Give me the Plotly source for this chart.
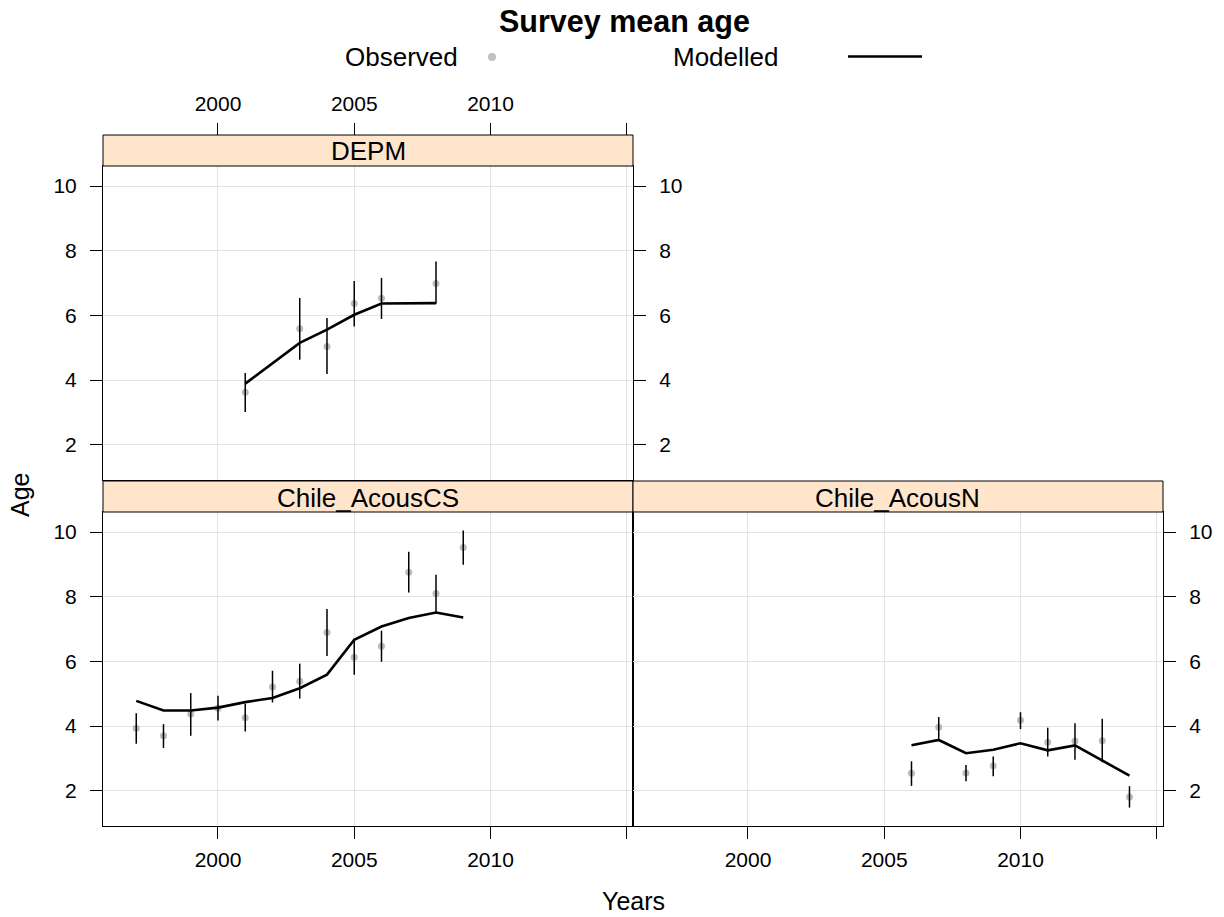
import plotly.graph_objects as go

# ---------------- data ----------------
panel_names = ["DEPM", "Chile_AcousCS", "Chile_AcousN"]

years_depm = [2001, 2003, 2004, 2005, 2006, 2008]
obs_depm = [3.62, 5.59, 5.04, 6.37, 6.53, 6.99]
lo_depm = [3.01, 4.63, 4.19, 5.66, 5.89, 6.36]
hi_depm = [4.22, 6.54, 5.92, 7.06, 7.16, 7.67]
mod_depm = [3.89, 5.15, 5.56, 6.02, 6.37, 6.38]

years_cs = [1997, 1998, 1999, 2000, 2001, 2002, 2003, 2004, 2005, 2006, 2007, 2008, 2009]
obs_cs = [3.93, 3.70, 4.37, 4.55, 4.26, 5.21, 5.39, 6.89, 6.13, 6.47, 8.76, 8.10, 9.52]
lo_cs = [3.45, 3.32, 3.70, 4.17, 3.83, 4.73, 4.85, 6.17, 5.59, 5.99, 8.13, 7.51, 8.99]
hi_cs = [4.40, 4.06, 5.02, 4.94, 4.69, 5.71, 5.93, 7.62, 6.69, 6.95, 9.39, 8.68, 10.05]
mod_cs = [4.78, 4.48, 4.48, 4.57, 4.74, 4.87, 5.17, 5.59, 6.67, 7.08, 7.34, 7.51, 7.36]

years_n = [2006, 2007, 2008, 2009, 2010, 2011, 2012, 2013, 2014]
obs_n = [2.54, 3.96, 2.55, 2.77, 4.18, 3.50, 3.54, 3.55, 1.81]
lo_n = [2.15, 3.61, 2.29, 2.45, 3.91, 3.06, 2.96, 2.88, 1.48]
hi_n = [2.91, 4.28, 2.80, 3.06, 4.43, 3.95, 4.09, 4.23, 2.14]
mod_n = [3.41, 3.57, 3.16, 3.27, 3.47, 3.25, 3.40, 2.94, 2.47]

x_tickvals = [2000, 2005, 2010, 2015]
x_ticktext = ["2000", "2005", "2010", ""]
y_tickvals = [2, 4, 6, 8, 10]
x_range = [1995.78, 2015.23]
y_range = [0.91, 10.62]

# ---------------- layout geometry (pixels) ----------------
W, H = 1224, 917
FONT = "Liberation Sans"
GRID = "#e3e3e3"
STRIP = "#FFE5CC"


def px(x):
    return x / W


def py(y):
    return 1 - y / H


XL = [px(103), px(633)]
XR = [px(633), px(1163)]
Y_TOP = [py(480), py(166)]
Y_BOT = [py(826), py(512)]
STRIPS = [  # (x0, x1, y0, y1) pixels
    (103, 633, 135, 166),
    (103, 633, 481, 512),
    (633, 1163, 481, 512),
]

fig = go.Figure()

panels = [
    ("x", "y", years_depm, obs_depm, lo_depm, hi_depm, mod_depm),
    ("x2", "y2", years_cs, obs_cs, lo_cs, hi_cs, mod_cs),
    ("x3", "y3", years_n, obs_n, lo_n, hi_n, mod_n),
]

for xa, ya, yrs, obs, lo, hi, mod in panels:
    fig.add_trace(go.Scatter(
        x=yrs, y=obs, mode="markers", xaxis=xa, yaxis=ya,
        marker=dict(size=7, color="rgba(150,150,150,0.65)", line=dict(width=0)),
        showlegend=False, hoverinfo="x+y"))
    ex, ey = [], []
    for yr, l, h in zip(yrs, lo, hi):
        ex += [yr, yr, None]
        ey += [l, h, None]
    fig.add_trace(go.Scatter(
        x=ex, y=ey, mode="lines", xaxis=xa, yaxis=ya,
        line=dict(color="black", width=1.5), showlegend=False, hoverinfo="skip"))
    fig.add_trace(go.Scatter(
        x=yrs, y=mod, mode="lines", xaxis=xa, yaxis=ya,
        line=dict(color="black", width=2.6), showlegend=False))

# invisible carrier trace so the extra top / right axes of the DEPM panel are drawn
fig.add_trace(go.Scatter(
    x=years_depm, y=obs_depm, mode="markers", xaxis="x4", yaxis="y4",
    marker=dict(size=1, opacity=0), showlegend=False, hoverinfo="skip"))

tickfont = dict(family=FONT, size=21, color="black")
common_x = dict(range=x_range, tickvals=x_tickvals, ticktext=x_ticktext,
                gridcolor=GRID, gridwidth=1, zeroline=False, tickfont=tickfont,
                linecolor="black", linewidth=1, tickcolor="black", ticklen=12, tickwidth=1)
common_y = dict(range=y_range, tickvals=y_tickvals, gridcolor=GRID, gridwidth=1,
                zeroline=False, tickfont=tickfont, linecolor="black", linewidth=1,
                tickcolor="black", ticklen=12, tickwidth=1)

fig.update_layout(
    width=W, height=H,
    margin=dict(l=0, r=0, t=0, b=0),
    paper_bgcolor="white", plot_bgcolor="white",
    font=dict(family=FONT, color="black"),
    showlegend=False,
    # top-left panel (DEPM)
    xaxis=dict(domain=XL, anchor="y", showticklabels=False, ticks="",
               showline=True, mirror=True, **{k: v for k, v in common_x.items() if k not in ("ticklen",)}),
    yaxis=dict(domain=Y_TOP, anchor="x", ticks="outside", showline=True, mirror=True,
               ticklabelstandoff=9, **common_y),
    xaxis4=dict(overlaying="x", anchor="free", position=py(135), side="top",
                ticks="outside", showgrid=False, showline=False, ticklabelstandoff=4,
                **{k: v for k, v in common_x.items() if k not in ("gridcolor", "gridwidth")}),
    yaxis4=dict(overlaying="y", anchor="x", side="right", ticks="outside",
                showgrid=False, showline=False, ticklabelstandoff=9, **common_y),
    # bottom-left panel (Chile_AcousCS)
    xaxis2=dict(domain=XL, anchor="y2", ticks="outside", showline=True, mirror=True,
                ticklabelstandoff=3, **common_x),
    yaxis2=dict(domain=Y_BOT, anchor="x2", ticks="outside", showline=True, mirror=True,
                ticklabelstandoff=9, **common_y),
    # bottom-right panel (Chile_AcousN)
    xaxis3=dict(domain=XR, anchor="y3", ticks="outside", showline=True, mirror=True,
                ticklabelstandoff=3, **common_x),
    yaxis3=dict(domain=Y_BOT, anchor="x3", side="right", ticks="outside", showline=True,
                mirror=True, ticklabelstandoff=9, **common_y),
)

shapes = []
annotations = []
for (x0, x1, y0, y1), name in zip(STRIPS, panel_names):
    shapes.append(dict(type="rect", xref="paper", yref="paper",
                       x0=px(x0), x1=px(x1), y0=py(y1), y1=py(y0),
                       fillcolor=STRIP, line=dict(color="black", width=1), layer="above"))
    annotations.append(dict(text=name, xref="paper", yref="paper",
                            x=px((x0 + x1) / 2), y=py((y0 + y1) / 2 + 1),
                            xanchor="center", yanchor="middle", showarrow=False,
                            font=dict(family=FONT, size=26, color="black")))

# title
annotations.append(dict(text="<b>Survey mean age</b>", xref="paper", yref="paper",
                        x=px(624), y=py(21), xanchor="center", yanchor="middle",
                        showarrow=False, font=dict(family=FONT, size=30.5, color="black")))
# legend (key)
annotations.append(dict(text="Observed", xref="paper", yref="paper",
                        x=px(401), y=py(57), xanchor="center", yanchor="middle",
                        showarrow=False, font=dict(family=FONT, size=26, color="black")))
annotations.append(dict(text="Modelled", xref="paper", yref="paper",
                        x=px(726), y=py(57), xanchor="center", yanchor="middle",
                        showarrow=False, font=dict(family=FONT, size=26, color="black")))
shapes.append(dict(type="circle", xref="paper", yref="paper",
                   x0=px(488), x1=px(496), y0=py(61), y1=py(53),
                   fillcolor="#c0c0c0", line=dict(width=0)))
shapes.append(dict(type="line", xref="paper", yref="paper",
                   x0=px(848), x1=px(922), y0=py(56.5), y1=py(56.5),
                   line=dict(color="black", width=2.6)))
# axis titles
annotations.append(dict(text="Age", xref="paper", yref="paper",
                        x=px(20), y=py(495), xanchor="center", yanchor="middle",
                        textangle=-90, showarrow=False,
                        font=dict(family=FONT, size=25, color="black")))
annotations.append(dict(text="Years", xref="paper", yref="paper",
                        x=px(633), y=py(901), xanchor="center", yanchor="middle",
                        showarrow=False, font=dict(family=FONT, size=25, color="black")))

fig.update_layout(shapes=shapes, annotations=annotations)

fig.write_html("out.html", config={"displayModeBar": False},
               post_script="document.body.style.margin='0px';")
